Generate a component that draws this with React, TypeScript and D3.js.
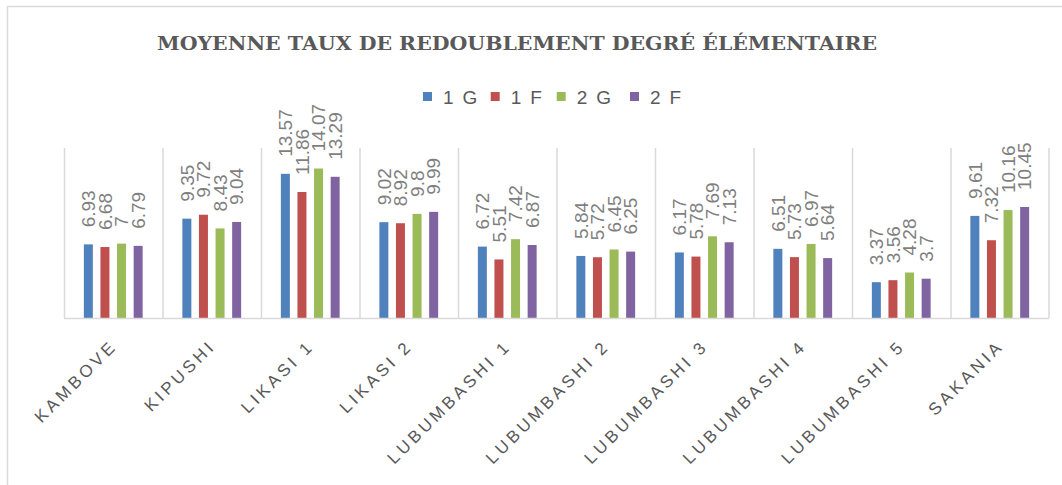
import React from "react";
import * as d3 from "d3";

const categories = ["KAMBOVE", "KIPUSHI", "LIKASI 1", "LIKASI 2", "LUBUMBASHI 1", "LUBUMBASHI 2", "LUBUMBASHI 3", "LUBUMBASHI 4", "LUBUMBASHI 5", "SAKANIA"];
const seriesNames = ["1 G", "1 F", "2 G", "2 F"];
const values1G = [6.93, 9.35, 13.57, 9.02, 6.72, 5.84, 6.17, 6.51, 3.37, 9.61];
const values1F = [6.68, 9.72, 11.86, 8.92, 5.51, 5.72, 5.78, 5.73, 3.56, 7.32];
const values2G = [7, 8.43, 14.07, 9.8, 7.42, 6.45, 7.69, 6.97, 4.28, 10.16];
const values2F = [6.79, 9.04, 13.29, 9.99, 6.87, 6.25, 7.13, 5.64, 3.7, 10.45];
const seriesValues = [values1G, values1F, values2G, values2F];
const colors = ["#4f81bd", "#c0504d", "#9bbb59", "#8064a2"];
const title = "MOYENNE TAUX DE REDOUBLEMENT DEGRÉ ÉLÉMENTAIRE";

export default function App() {
  const W = 1062, H = 485;
  const left = 64, right = 1049, top = 148, bottom = 318;
  const x0 = d3.scaleBand<string>().domain(categories).range([left, right]).padding(0);
  const bw = x0.bandwidth();
  const x1 = d3.scaleBand<string>().domain(seriesNames).range([bw / 2 - 29.4, bw / 2 + 29.4]).paddingInner(0.458).paddingOuter(0);
  const y = d3.scaleLinear().domain([0, 16]).range([bottom, top]);
  const legendX = [423, 490.7, 556.7, 630];

  return (
    <svg width={W} height={H} style={{ position: "absolute", left: 0, top: 0, display: "block" }}>
      <rect x={0} y={0} width={W} height={H} fill="#fff" />
      <rect x={7.5} y={6.5} width={1200} height={600} fill="none" stroke="#d9d9d9" strokeWidth={1.5} />
      <text x={517} y={50} textAnchor="middle" fontFamily="DejaVu Serif" fontWeight="bold" fontSize={19} fill="#595959" textLength={720} lengthAdjust="spacingAndGlyphs">{title}</text>
      {seriesNames.map((s, i) => (
        <g key={s}>
          <rect x={legendX[i]} y={92} width={9} height={9} fill={colors[i]} />
          <text x={legendX[i] + 20} y={104} fontFamily="Liberation Sans" fontSize={19} fill="#595959" letterSpacing={1.8}>{s}</text>
        </g>
      ))}
      {categories.map((c, i) => (
        <line key={"g" + i} x1={x0(c)! + 0.5} x2={x0(c)! + 0.5} y1={top} y2={bottom} stroke="#d9d9d9" strokeWidth={1.5} />
      ))}
      <line x1={right} x2={right} y1={top} y2={bottom} stroke="#d9d9d9" strokeWidth={1.5} />
      {categories.map((c, ci) => (
        <g key={c} transform={`translate(${x0(c)},0)`}>
          {seriesNames.map((s, si) => {
            const v = seriesValues[si][ci];
            const bx = x1(s)!;
            const cx = bx + x1.bandwidth() / 2;
            return (
              <g key={s}>
                <rect x={bx} y={y(v)} width={x1.bandwidth()} height={bottom - y(v)} fill={colors[si]} />
                <text transform={`translate(${cx},${y(v) - 17}) rotate(-90)`} dy="0.35em" fontFamily="Liberation Sans" fontSize={19} fill="#7f7f7f">{String(v)}</text>
              </g>
            );
          })}
        </g>
      ))}
      <line x1={left} x2={right} y1={bottom + 0.5} y2={bottom + 0.5} stroke="#d9d9d9" strokeWidth={1.5} />
      {categories.map((c) => {
        const cx = x0(c)! + bw / 2;
        return (
          <text key={"l" + c} transform={`translate(${cx + 5},${347}) rotate(-45)`} textAnchor="end" fontFamily="Liberation Sans" fontSize={17} fill="#595959" letterSpacing={3.5}>{c}</text>
        );
      })}
    </svg>
  );
}
